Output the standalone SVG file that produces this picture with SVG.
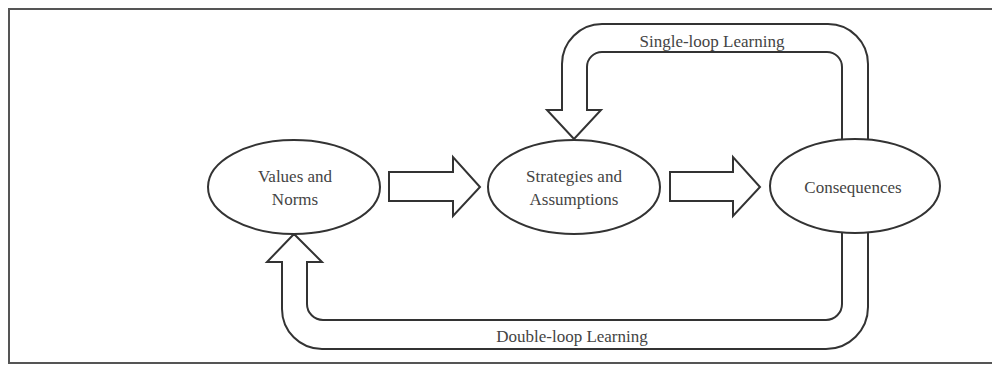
<svg xmlns="http://www.w3.org/2000/svg" width="992" height="365" viewBox="0 0 992 365">
<style>
.frame{fill:none;stroke:#555;stroke-width:2}
.conn{fill:#fff;stroke:#333;stroke-width:2;stroke-linejoin:miter}
.node{fill:#fff;stroke:#333;stroke-width:2}
text{font-family:"Liberation Serif","Times New Roman",serif;font-size:17px;fill:#444;text-anchor:middle}
</style>
<rect width="992" height="365" fill="#fff"/>
<path class="frame" d="M 994 9 H 9 V 363 H 994"/>
<g id="connectors">
  <path id="single-loop" class="conn" d="M 868 142 V 64 A 40 40 0 0 0 828 24 H 602 A 40 40 0 0 0 562 64 V 110 H 547 L 574 139 L 601 110 H 587 V 67 A 15 15 0 0 1 602 52 H 827 A 15 15 0 0 1 842 67 V 142"/>
  <path id="double-loop" class="conn" d="M 842 230 V 304 A 16 16 0 0 1 826 320 H 323 A 16 16 0 0 1 307 304 V 262 H 322 L 294 234 L 267 262 H 282 V 309 A 40 40 0 0 0 322 349 H 826 A 42 42 0 0 0 868 307 V 230"/>
  <polygon id="arrow-values-strategies" class="conn" points="389,172 453,172 453,157 480,187 453,216 453,201 389,201"/>
  <polygon id="arrow-strategies-consequences" class="conn" points="670,172 733,172 733,157 760,187 733,216 733,201 670,201"/>
  <text x="712" y="47">Single-loop Learning</text>
  <text x="572" y="342">Double-loop Learning</text>
</g>
<g id="values-norms">
  <ellipse class="node" cx="294" cy="187" rx="86" ry="47"/>
  <text x="295" y="182">Values and</text>
  <text x="295" y="205">Norms</text>
</g>
<g id="strategies-assumptions">
  <ellipse class="node" cx="574" cy="187" rx="86" ry="47"/>
  <text x="574" y="182">Strategies and</text>
  <text x="574" y="205">Assumptions</text>
</g>
<g id="consequences">
  <ellipse class="node" cx="855" cy="186" rx="85" ry="47"/>
  <text x="853" y="193">Consequences</text>
</g>
</svg>
